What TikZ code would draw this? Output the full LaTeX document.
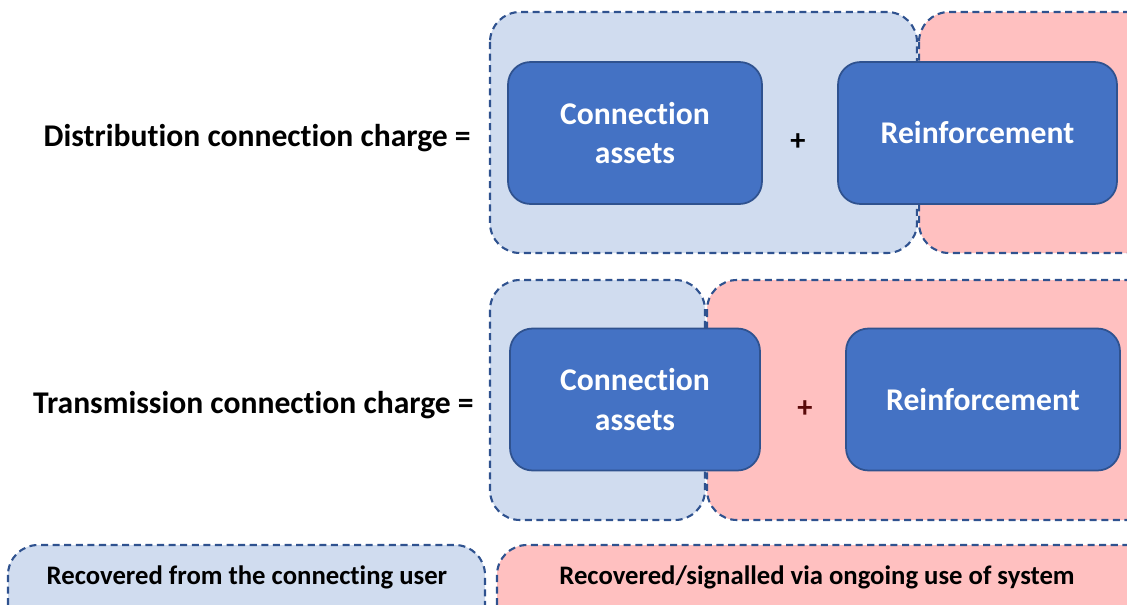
\documentclass[tikz,border=0pt]{standalone}
\usepackage{fontspec}
\setmainfont{Carlito}[Ligatures=NoCommon]
\usepackage{tikz}

\definecolor{paleblue}{HTML}{D0DCEF}
\definecolor{palered}{HTML}{FFC0C0}
\definecolor{boxblue}{HTML}{4472C4}
\definecolor{edgeblue}{HTML}{2F528F}
\definecolor{plusred}{HTML}{5A0A0A}

\begin{document}
\begin{tikzpicture}[x=0.02cm,y=-0.02cm,
	panel/.style={draw=edgeblue,line width=1.2pt,dash pattern=on 4pt off 2.6pt,rounded corners=0.6cm},
	asset/.style={shape=rectangle,draw=edgeblue,line width=1pt,fill=boxblue,rounded corners=0.45cm,
		text=white,align=center,inner sep=0pt,minimum height=2.84cm,font=\fontsize{18}{22.7}\selectfont\bfseries},
	charge/.style={anchor=east,inner sep=0pt,font=\fontsize{18}{21}\selectfont\bfseries},
	legend/.style={inner sep=0pt,font=\fontsize{15.2}{18}\selectfont\bfseries}]
	\useasboundingbox (0,0) rectangle (1127,605);
	\clip (0,0) rectangle (1127,605);

	% background panels
	\draw[panel,fill=paleblue] (490,12) rectangle (917,253);
	\draw[panel,fill=palered] (919,12) rectangle (1160,253);
	\draw[panel,fill=paleblue] (490,280) rectangle (705,520);
	\draw[panel,fill=palered] (707,280) rectangle (1160,520);
	\draw[panel,fill=paleblue] (8,545) rectangle (485,650);
	\draw[panel,fill=palered] (497,545) rectangle (1160,650);

	% distribution
	\node[charge] (dcharge) at (471,138) {Distribution connection charge =};
	\node[asset,minimum width=5.08cm] (dassets) at (635,133) {Connection\\assets};
	\node[asset,minimum width=5.58cm] (dreinf) at (977.5,133) {Reinforcement};
	\node[font=\LARGE\bfseries] (dplus) at (798,142) {+};

	% transmission
	\node[charge] (tcharge) at (474,405) {Transmission connection charge =};
	\node[asset,minimum width=5.0cm] (tassets) at (635,399.5) {Connection\\assets};
	\node[asset,minimum width=5.48cm] (treinf) at (983,399.5) {Reinforcement};
	\node[font=\LARGE\bfseries,text=plusred] (tplus) at (805,409) {+};

	% legend
	\node[legend] (luser) at (247,577) {Recovered from the connecting user};
	\node[legend] (lsystem) at (817,577) {Recovered/signalled via ongoing use of system};
\end{tikzpicture}
\end{document}
